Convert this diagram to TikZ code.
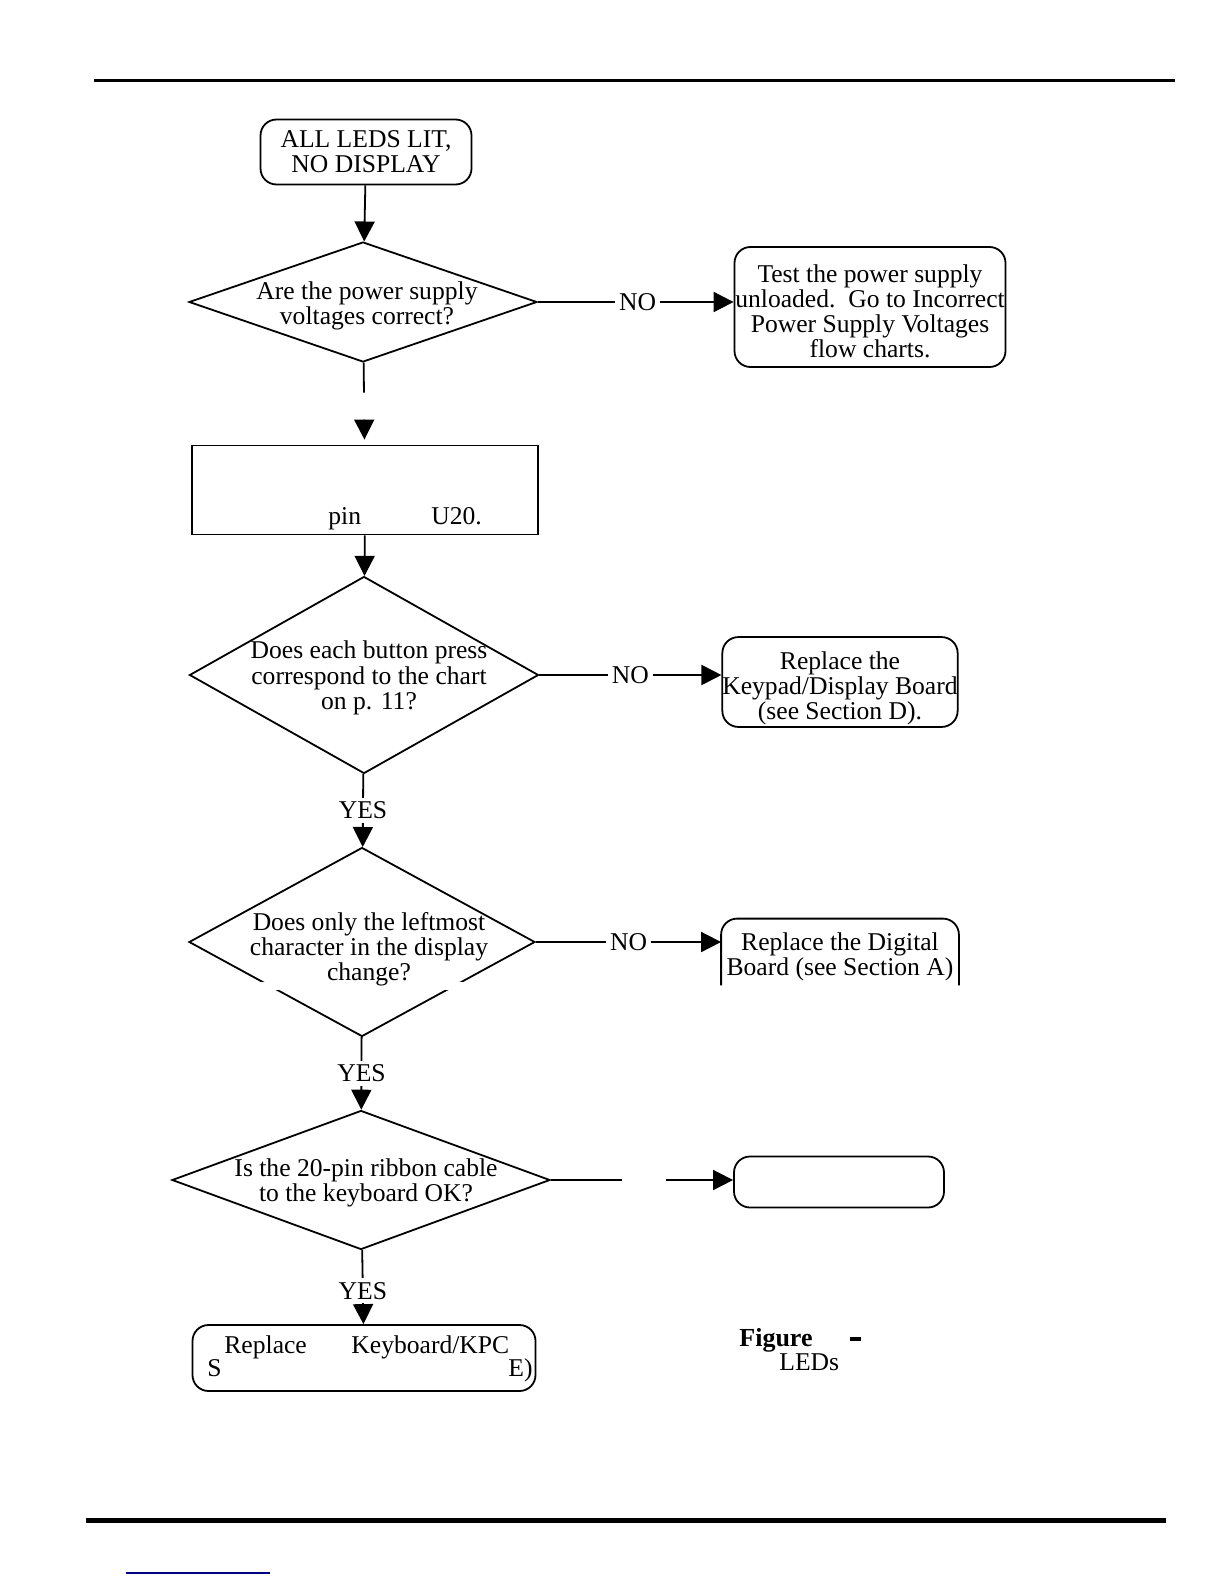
\documentclass[tikz,border=0pt]{standalone}
\usepackage{fontspec}
\setmainfont{Liberation Serif}
\usetikzlibrary{shapes.geometric, arrows.meta, positioning}
\newcommand{\chartfont}{\fontsize{12.8}{12.6}\selectfont}

\begin{document}
\begin{tikzpicture}[
        x=0.5pt, y=-0.5pt,
        block/.style={rectangle, draw, rounded corners=8pt, line width=0.9pt, align=center, inner xsep=0pt, inner ysep=1pt, font=\chartfont},
        openbox/.style={rectangle, align=center, inner xsep=0pt, inner ysep=1pt, font=\chartfont},
        decision/.style={diamond, draw, line width=0.9pt, inner sep=0pt},
        question/.style={align=center, inner sep=0pt, font=\chartfont},
        note/.style={inner sep=0pt, font=\chartfont},
        line/.style={draw, -{Triangle[length=10pt, width=10pt]}, line width=0.9pt},
        answer/.style={fill=white, inner sep=2pt, font=\chartfont}
    ]
        \useasboundingbox (0,0) rectangle (1224,1584);

        % page rules
        \draw [line width=1.5pt] (94,81) -- (1175,81);
        \draw [line width=2.5pt] (86,1520) -- (1166,1520);
        \draw [line width=0.8pt, blue!50!black] (126,1573) -- (270,1573);

        \node [block, minimum width=105.5pt, minimum height=32.5pt] (start) at (366,152) {ALL LEDS LIT,\\ NO DISPLAY};

        \node [decision, minimum width=174pt, minimum height=60pt] (volt) at (363,302) {};
        \node [question] (voltq) at (367,306) {Are the power supply\\voltages correct?};
        \node [block, minimum width=135.5pt, minimum height=60pt] (psu) at (870,307) {\rule{0pt}{13pt}Test the power supply\\unloaded.\ \ Go to Incorrect\\Power Supply Voltages\\flow charts.};

        \node [rectangle, draw, line width=0.9pt, minimum width=173pt, minimum height=44.5pt] (probe) at (365,490) {};
        \node [note, anchor=base west] (pin) at (328,524) {pin};
        \node [note, anchor=base west] (chip) at (431,524) {U20.};

        \node [decision, minimum width=174.5pt, minimum height=98.5pt] (press) at (364,675) {};
        \node [question] (pressq) at (369,678) {Does each button press\\correspond to the chart\\on p. 11?};
        \node [block, minimum width=117.5pt, minimum height=43pt] (keypad) at (840,682) {\rule{0pt}{15pt}Replace the\\Keypad/Display Board\\(see Section D).};

        \node [decision, minimum width=173pt, minimum height=94.5pt] (shift) at (362,942) {};
        \fill [white] (240,982) rectangle (490,990);
        \node [question] (shiftq) at (369,949) {Does only the leftmost\\character in the display\\change?};
        \node [openbox, minimum width=118.5pt, minimum height=33pt] (digital) at (840,952) {\rule{0pt}{14pt}Replace the Digital\\Board (see Section A)};
        \draw [line width=0.9pt, rounded corners=8pt] (digital.south west) |- (digital.north east) -- (digital.south east);

        \node [decision, minimum width=189pt, minimum height=69.5pt] (cable) at (361,1180) {};
        \node [question] (cableq) at (366,1183) {Is the 20-pin ribbon cable\\to the keyboard OK?};
        \node [block, minimum width=105pt, minimum height=25.5pt] (ribbon) at (839,1182) {};

        \node [block, minimum width=171.5pt, minimum height=33pt] (swap) at (364,1358) {};
        \node [note, anchor=base west] (swapa) at (224,1353) {Replace};
        \node [note, anchor=base west] (swapb) at (351,1353) {Keyboard/KPC};
        \node [note, anchor=base west] (swapc) at (207,1376) {S};
        \node [note, anchor=base east] (swapd) at (533,1376) {E)};

        % caption
        \node [note, anchor=base west, font=\fontsize{13}{14}\selectfont\bfseries] (fig) at (739,1346) {Figure};
        \node [note, anchor=base] (figdash) at (855,1346) {\rule[2.6pt]{5.5pt}{1.8pt}};
        \node [note, anchor=base west] (leds) at (779,1370) {LEDs};

        \path [line] (start) -- (volt);
        \path [line] (volt.east) -- node[answer, pos=0.51] {NO} (volt.east -| psu.west);
        \path [line, dash pattern=on 15pt off 13.5pt on 40pt, shorten >=2.5pt] (volt) -- (probe);
        \path [line] (probe) -- (press);
        \path [line] (press.east) -- node[answer] {NO} (press.east -| keypad.west);
        \path [line] (press) -- node[answer] {YES} (shift);
        \path [line] (shift.east) -- node[answer] {NO} (shift.east -| digital.west);
        \path [line] (shift) -- node[answer] {YES} (cable);
        \path [line, dash pattern=on 35.5pt off 22pt on 60pt] (cable.east) -- (cable.east -| ribbon.west);
        \path [line] (cable) -- node[answer, pos=0.55] {YES} (swap);
    \end{tikzpicture}
\end{document}
